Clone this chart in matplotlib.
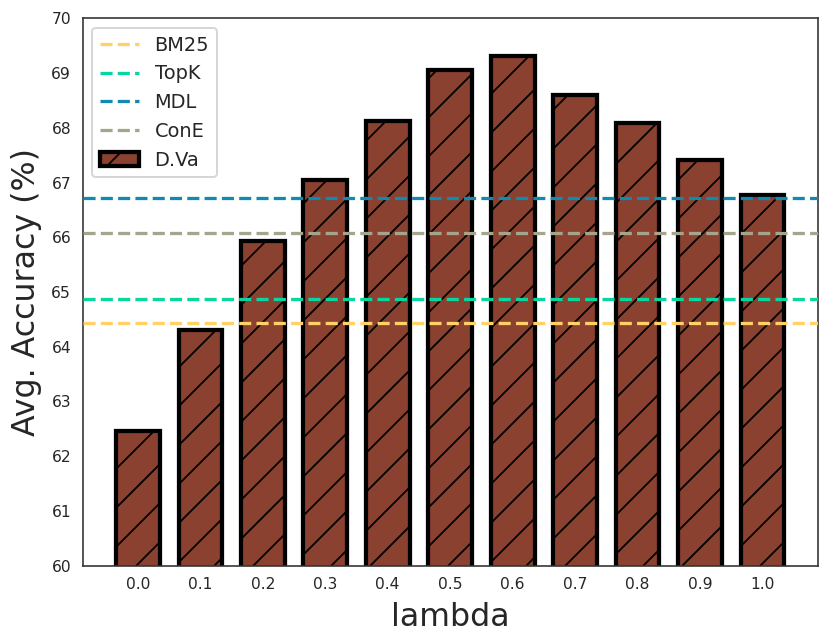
import numpy as np
import matplotlib
matplotlib.use("Agg")
import matplotlib.pyplot as plt

# lambda values and D.Va average accuracy
lambdas = ["0.0", "0.1", "0.2", "0.3", "0.4", "0.5", "0.6", "0.7", "0.8", "0.9", "1.0"]
dva_acc = [62.46, 64.30, 65.93, 67.04, 68.12, 69.05, 69.32, 68.59, 68.09, 67.42, 66.78]

# baselines (horizontal lines)
baseline_names = ["BM25", "TopK", "MDL", "ConE"]
baseline_acc = [64.44, 64.88, 66.72, 66.07]
baseline_colors = ["#FFD166", "#06D6A0", "#118AB2", "#A5A58D"]

bar_color = "#8B4130"

DPI = 117.5
plt.rcParams["hatch.linewidth"] = 1.1
plt.rcParams["font.family"] = ["DejaVu Sans"]
plt.rcParams["text.color"] = "0.15"

fig = plt.figure(figsize=(830 / DPI, 644 / DPI), dpi=DPI)
ax = fig.add_axes([0.0996, 0.1216, 0.8856, 0.85])

x = np.arange(len(lambdas))
ax.bar(x, dva_acc, width=0.7, color=bar_color, edgecolor="black",
       linewidth=2.6, hatch="/", label="D.Va", zorder=2)

for name, val, col in zip(baseline_names, baseline_acc, baseline_colors):
    ax.axhline(val, color=col, linestyle="--", linewidth=2.0, label=name, zorder=3)

ax.set_ylim(60, 70)
ax.set_yticks(np.arange(60, 71, 1))
ax.set_xticks(x)
ax.set_xticklabels(lambdas)
ax.tick_params(axis="both", length=0, pad=7, labelsize=9.5, colors="0.15")

for s in ax.spines.values():
    s.set_linewidth(1.0)
    s.set_color("0.2")

ax.set_xlabel("lambda", fontsize=19.4, color="0.15", labelpad=6)
ax.set_ylabel("Avg. Accuracy (%)", fontsize=19.4, color="0.15", labelpad=6)

leg = ax.legend(loc="upper left", fontsize=11.9, frameon=True, fancybox=True)
leg.get_frame().set_edgecolor("0.8")
leg.get_frame().set_linewidth(1.2)

fig.savefig("out.png", dpi=DPI)
